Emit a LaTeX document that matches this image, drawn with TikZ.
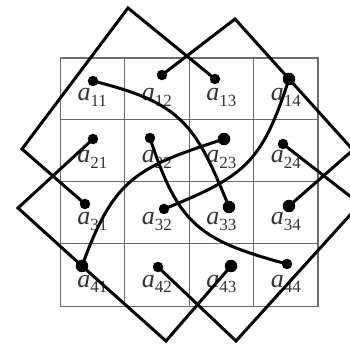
\documentclass[tikz,border=0pt]{standalone}
\usepackage{fontspec}
\setmainfont{Liberation Serif}
\newcommand{\ent}[2]{\textit{a}\raisebox{-5.5pt}{\fontsize{17}{17}\selectfont #1#2}}
\begin{document}
\begin{tikzpicture}[x=1pt,y=1pt,
  cell/.style={draw=gray!85!black,line width=1pt},
  lab/.style={anchor=base,inner sep=0pt,font=\fontsize{26}{26}\selectfont,text=black!80},
  dot/.style={circle,fill=black,inner sep=0pt,minimum size=10.5pt},
  bigdot/.style={dot,minimum size=12.5pt},
  link/.style={line width=3pt}]
\useasboundingbox (0,0) rectangle (350,345);
\clip (0,0) rectangle (350,345);
\draw[cell,shift={(60,39)},xstep=64.5,ystep=62] (0,0) grid (258,248);
\draw[cell] (60,39) rectangle (318,287);
\node[lab] (e11) at (92.25,244) {\ent11};
\node[lab] (e12) at (156.75,244) {\ent12};
\node[lab] (e13) at (221.25,244) {\ent13};
\node[lab] (e14) at (285.75,244) {\ent14};
\node[lab] (e21) at (92.25,182) {\ent21};
\node[lab] (e22) at (156.75,182) {\ent22};
\node[lab] (e23) at (221.25,182) {\ent23};
\node[lab] (e24) at (285.75,182) {\ent24};
\node[lab] (e31) at (92.25,120) {\ent31};
\node[lab] (e32) at (156.75,120) {\ent32};
\node[lab] (e33) at (221.25,120) {\ent33};
\node[lab] (e34) at (285.75,120) {\ent34};
\node[lab] (e41) at (92.25,58) {\ent41};
\node[lab] (e42) at (156.75,58) {\ent42};
\node[lab] (e43) at (221.25,58) {\ent43};
\node[lab] (e44) at (285.75,58) {\ent44};
% dots
\node[dot] (d11) at (93,264) {};
\node[dot] (d12) at (162,270) {};
\node[dot] (d13) at (215,266) {};
\node[bigdot] (d14) at (289,266) {};
\node[dot] (d21) at (93,206) {};
\node[dot] (d22) at (150,207) {};
\node[bigdot] (d23) at (224,206) {};
\node[dot] (d24) at (283,201) {};
\node[dot] (d31) at (85,141) {};
\node[dot] (d32) at (164,136) {};
\node[bigdot] (d33) at (229,138) {};
\node[bigdot] (d34) at (289,139) {};
\node[bigdot] (d41) at (82,79) {};
\node[dot] (d42) at (158,78) {};
\node[bigdot] (d43) at (231,79) {};
\node[dot] (d44) at (287,81) {};
% corners of the turned frames
\coordinate (top1) at (128,337);
\coordinate (top2) at (235,326);
\coordinate (left1) at (22,196);
\coordinate (left2) at (18,137);
\coordinate (bot1) at (166,4);
\coordinate (bot2) at (236,4);
\coordinate (right1) at (360,141);
\coordinate (right2) at (353,195);
\draw[link] (d13.center) -- (top1) -- (left1) -- (d31.center);
\draw[link] (d12.center) -- (top2) -- (d14.center) -- (right2) -- (d34.center);
\draw[link] (d21.center) -- (left2) -- (d41.center) -- (bot1) -- (d43.center);
\draw[link] (d42.center) -- (bot2) -- (right1) -- (d24.center);
% arcs
\draw[link] (d11.center) to[out=-14,in=112,looseness=1.25] (d33.center);
\draw[link] (d22.center) to[out=-72,in=165,looseness=1.25] (d44.center);
\draw[link] (d41.center) to[out=70,in=-162,looseness=1.25] (d23.center);
\draw[link] (d14.center) to[out=-108,in=22,looseness=1.25] (d32.center);
\end{tikzpicture}
\end{document}
